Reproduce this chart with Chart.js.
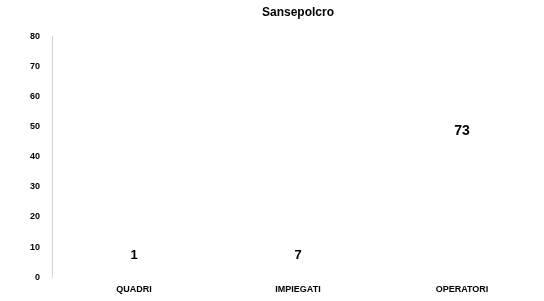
<!DOCTYPE html>
<html>
<head>
<meta charset="utf-8">
<script src="https://cdn.jsdelivr.net/npm/chart.js@4"></script>
<style>
  html, body { margin: 0; padding: 0; background: #fff; }
  #wrap { width: 544px; height: 301px; }
</style>
</head>
<body>
<div id="wrap"><canvas id="bar-chart"></canvas></div>
<script>
// data
const categories = ['QUADRI', 'IMPIEGATI', 'OPERATORI'];
const values = [1, 7, 73];
const yTicks = [0, 10, 20, 30, 40, 50, 60, 70, 80];

// value labels drawn on the (invisible) bars
const valueLabels = {
  id: 'valueLabels',
  afterDatasetsDraw(chart) {
    const ctx = chart.ctx;
    const meta = chart.getDatasetMeta(0);
    ctx.save();
    ctx.fillStyle = '#000';
    ctx.textAlign = 'center';
    ctx.textBaseline = 'middle';
    meta.data.forEach((bar, i) => {
      const h = bar.base - bar.y;
      const y = Math.min(bar.base - 22, bar.y + h / 3);
      ctx.font = (values[i] >= 10 ? 'bold 14px' : 'bold 13px') + ' "Liberation Sans", Arial, sans-serif';
      ctx.fillText(String(values[i]), bar.x, y);
    });
    ctx.restore();
  }
};

document.addEventListener('DOMContentLoaded', () => {
  const ctx = document.getElementById('bar-chart').getContext('2d');
  new Chart(ctx, {
    type: 'bar',
    data: {
      labels: categories,
      datasets: [{
        label: 'Sansepolcro',
        data: values,
        backgroundColor: 'rgba(255,255,255,0)',
        borderWidth: 0,
      }],
    },
    options: {
      responsive: true,
      maintainAspectRatio: false,
      animation: false,
      layout: { padding: { left: 18, right: -8, top: 0, bottom: -1 } },
      plugins: {
        legend: { display: false },
        tooltip: { enabled: false },
        title: {
          display: true,
          fullSize: false,
          text: 'Sansepolcro',
          color: '#000',
          font: { family: '"Liberation Sans", Arial, sans-serif', size: 12, weight: 'bold' },
          padding: { top: 5, bottom: 17 },
        },
      },
      scales: {
        x: {
          grid: { display: false, drawTicks: false, tickLength: 0 },
          border: { display: false },
          ticks: {
            color: '#000',
            padding: 7,
            maxRotation: 0,
            font: { family: '"Liberation Sans", Arial, sans-serif', size: 9, weight: 'bold' },
          },
        },
        y: {
          min: 0,
          max: 80,
          afterBuildTicks(axis) { axis.ticks = yTicks.map(v => ({ value: v })); },
          grid: { display: false, drawTicks: false, tickLength: 0 },
          border: { display: true, color: '#d4d4d4', dash: [1, 4] },
          ticks: {
            color: '#000',
            padding: 12,
            font: { family: '"Liberation Sans", Arial, sans-serif', size: 9, weight: 'bold' },
          },
        },
      },
    },
    plugins: [valueLabels],
  });
});
</script>
</body>
</html>
